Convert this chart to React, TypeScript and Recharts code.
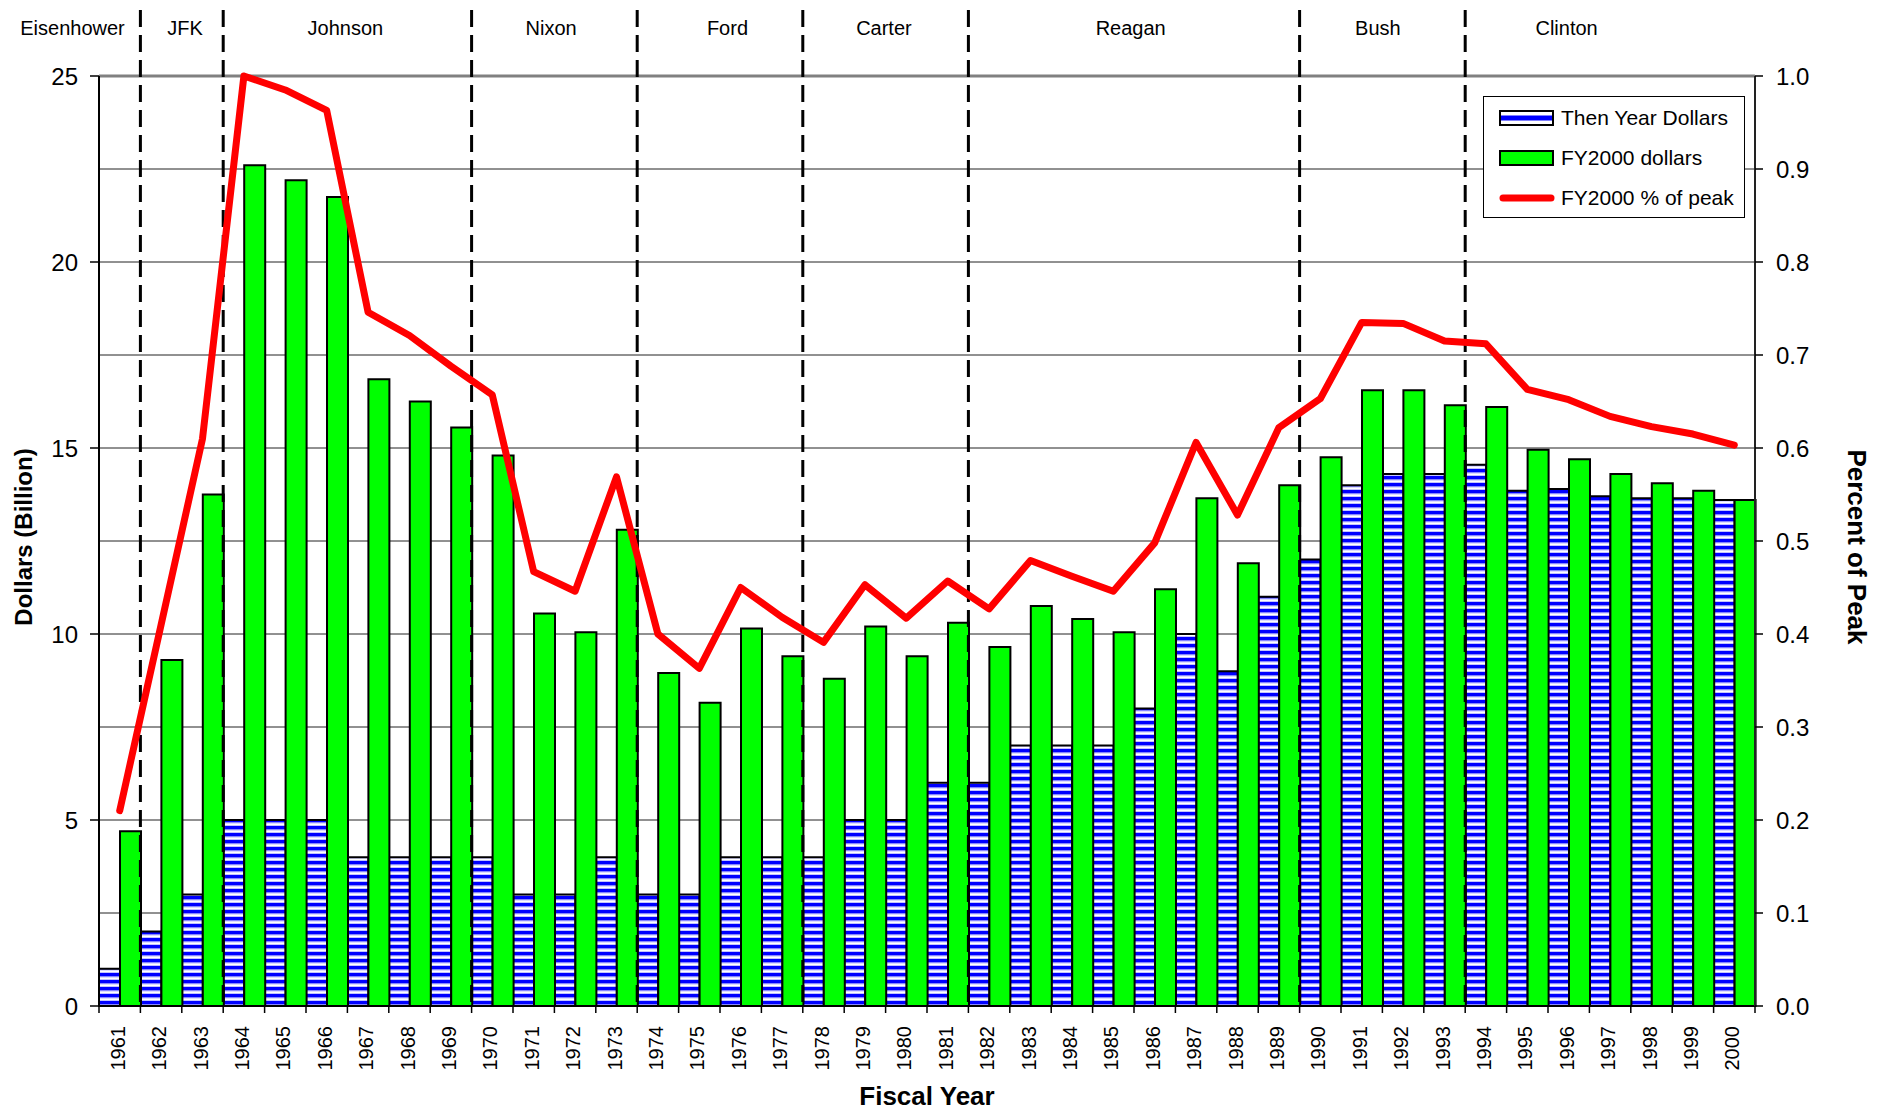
import {
  Bar,
  CartesianGrid,
  ComposedChart,
  Label,
  Legend,
  Line,
  ReferenceLine,
  XAxis,
  YAxis,
} from 'recharts'

const FONT = '"Liberation Sans", Arial, sans-serif'

const years = [
  1961, 1962, 1963, 1964, 1965, 1966, 1967, 1968, 1969, 1970,
  1971, 1972, 1973, 1974, 1975, 1976, 1977, 1978, 1979, 1980,
  1981, 1982, 1983, 1984, 1985, 1986, 1987, 1988, 1989, 1990,
  1991, 1992, 1993, 1994, 1995, 1996, 1997, 1998, 1999, 2000,
]

// then-year dollars, billions
const thenYear = [
  1, 2, 3, 5, 5, 5, 4, 4, 4, 4,
  3, 3, 4, 3, 3, 4, 4, 4, 5, 5,
  6, 6, 7, 7, 7, 8, 10, 9, 11, 12,
  14, 14.3, 14.3, 14.55, 13.85, 13.9, 13.7, 13.65, 13.65, 13.6,
]

// FY2000 dollars, billions
const fy2000 = [
  4.7, 9.3, 13.75, 22.6, 22.2, 21.75, 16.85, 16.25, 15.55, 14.8,
  10.55, 10.05, 12.8, 8.95, 8.15, 10.15, 9.4, 8.8, 10.2, 9.4,
  10.3, 9.65, 10.75, 10.4, 10.05, 11.2, 13.65, 11.9, 14.0, 14.75,
  16.55, 16.55, 16.15, 16.1, 14.95, 14.7, 14.3, 14.05, 13.85, 13.6,
]

// FY2000 as fraction of peak
const pctOfPeak = [
  0.21, 0.41, 0.61, 1.0, 0.985, 0.963, 0.746, 0.721, 0.688, 0.657,
  0.467, 0.446, 0.569, 0.4, 0.363, 0.45, 0.418, 0.391, 0.453, 0.417,
  0.457, 0.427, 0.479, 0.462, 0.446, 0.498, 0.606, 0.528, 0.622, 0.653,
  0.735, 0.734, 0.715, 0.712, 0.663, 0.652, 0.634, 0.623, 0.615, 0.603,
]

const presidents = ['Eisenhower', 'JFK', 'Johnson', 'Nixon', 'Ford', 'Carter', 'Reagan', 'Bush', 'Clinton']
const termStart = [1961, 1962, 1964, 1970, 1974, 1978, 1982, 1990, 1994]
// where each name sits, in fiscal-year units
const nameAt = [1959.86, 1962.58, 1966.45, 1971.42, 1975.68, 1979.46, 1985.42, 1991.39, 1995.95]

const dollarTicks = [0, 5, 10, 15, 20, 25]
const pctTicks = [0, 0.1, 0.2, 0.3, 0.4, 0.5, 0.6, 0.7, 0.8, 0.9, 1.0]

const data = years.map((year, i) => ({
  year,
  thenYear: thenYear[i],
  fy2000: fy2000[i],
  pct: pctOfPeak[i],
}))

function YearTick(props: any) {
  const { x, y, payload, index } = props
  const half = payload?.offset ?? 0
  const ty = y + 1
  return (
    <g>
      <line x1={x - half} x2={x - half} y1={y - 19} y2={y - 12} stroke="#000" strokeWidth={1.5} />
      {index === years.length - 1 && (
        <line x1={x + half} x2={x + half} y1={y - 19} y2={y - 12} stroke="#000" strokeWidth={1.5} />
      )}
      <text
        x={x - 2}
        y={ty}
        transform={`rotate(-90, ${x - 2}, ${ty})`}
        textAnchor="end"
        dominantBaseline="central"
        fontSize={20}
        fontFamily={FONT}
        fill="#000"
      >
        {payload.value}
      </text>
    </g>
  )
}

function TermLine(p: any) {
  const top = Math.min(p.y1, p.y2)
  const bottom = Math.max(p.y1, p.y2)
  return (
    <line
      x1={p.x1}
      x2={p.x1}
      y1={top - 66}
      y2={bottom}
      stroke="#000"
      strokeWidth={3}
      strokeDasharray="17 8"
    />
  )
}

function LegendBox() {
  const row = { display: 'flex', alignItems: 'center', height: 40 }
  const text = { fontSize: 21, fontFamily: FONT, color: '#000', marginLeft: 6 }
  return (
    <div
      style={{
        border: '1px solid #000',
        background: '#fff',
        width: 262,
        height: 122,
        boxSizing: 'border-box',
        padding: '1px 0 0 15px',
      }}
    >
      <div style={row}>
        <svg width={56} height={18}>
          <rect x={1} y={2} width={53} height={14} fill="#fff" stroke="#000" strokeWidth={2} />
          <rect x={2} y={6.5} width={51} height={5} fill="#0000ff" />
        </svg>
        <span style={text}>Then Year Dollars</span>
      </div>
      <div style={row}>
        <svg width={56} height={18}>
          <rect x={1} y={2} width={53} height={14} fill="#00ff00" stroke="#000" strokeWidth={2} />
        </svg>
        <span style={text}>FY2000 dollars</span>
      </div>
      <div style={row}>
        <svg width={56} height={18}>
          <line x1={4} x2={52} y1={9} y2={9} stroke="#ff0000" strokeWidth={7} strokeLinecap="round" />
        </svg>
        <span style={text}>FY2000 % of peak</span>
      </div>
    </div>
  )
}

export default function App() {
  return (
    <div style={{ fontFamily: FONT }}>
      <style>{'body{margin:0}'}</style>
      <svg width={0} height={0} style={{ position: 'absolute' }}>
        <defs>
          <pattern id="stripes" patternUnits="userSpaceOnUse" width={10} height={7}>
            <rect x={0} y={0} width={10} height={7} fill="#ffffff" />
            <rect x={0} y={0} width={10} height={3.5} fill="#0000ff" />
            <rect x={0} y={3.5} width={10} height={0.8} fill="#8c8cff" />
            <rect x={0} y={6.2} width={10} height={0.8} fill="#b4b4ff" />
          </pattern>
        </defs>
      </svg>
      <ComposedChart
        width={1885}
        height={1112}
        data={data}
        margin={{ top: 76, right: 0, bottom: 0, left: 0 }}
        barCategoryGap={0}
        barGap={0}
      >
        <CartesianGrid
          xAxisId="cat"
          yAxisId="right"
          vertical={false}
          stroke="#222"
          strokeWidth={1}
        />
        <XAxis
          xAxisId="cat"
          dataKey="year"
          type="category"
          height={106}
          interval={0}
          tickLine={false}
          tickSize={7}
          tickMargin={12}
          axisLine={{ stroke: '#000', strokeWidth: 2 }}
          tick={<YearTick />}
        >
          <Label
            value="Fiscal Year"
            position="insideBottom"
            offset={7}
            style={{ fontSize: 26, fontWeight: 700, fill: '#000', fontFamily: FONT }}
          />
        </XAxis>
        <XAxis
          xAxisId="era"
          dataKey="year"
          type="number"
          domain={[1960.5, 2000.5]}
          hide
          allowDataOverflow
        />
        <YAxis
          yAxisId="left"
          orientation="left"
          width={99}
          domain={[0, 25]}
          ticks={dollarTicks}
          interval={0}
          tickSize={9}
          tickMargin={12}
          tickLine={{ stroke: '#000', strokeWidth: 1.5 }}
          axisLine={{ stroke: '#000', strokeWidth: 2 }}
          tick={{ fontSize: 24, fill: '#000', fontFamily: FONT }}
        >
          <Label
            content={(p: any) => {
              const vb = p.viewBox
              const cx = vb.x + 23
              const cy = vb.y + vb.height / 2 - 4
              return (
                <text
                  x={cx}
                  y={cy}
                  transform={`rotate(-90, ${cx}, ${cy})`}
                  textAnchor="middle"
                  dominantBaseline="central"
                  fontSize={24}
                  fontWeight={700}
                  fontFamily={FONT}
                  fill="#000"
                >
                  Dollars (Billion)
                </text>
              )
            }}
          />
        </YAxis>
        <YAxis
          yAxisId="right"
          orientation="right"
          width={130}
          domain={[0, 1]}
          ticks={pctTicks}
          interval={0}
          tickSize={8}
          tickMargin={13}
          tickFormatter={(v: number) => v.toFixed(1)}
          tickLine={{ stroke: '#000', strokeWidth: 1.5 }}
          axisLine={{ stroke: '#222', strokeWidth: 2 }}
          tick={{ fontSize: 24, fill: '#000', fontFamily: FONT }}
        >
          <Label
            content={(p: any) => {
              const vb = p.viewBox
              const cx = vb.x + 102
              const cy = vb.y + vb.height / 2 + 6
              return (
                <text
                  x={cx}
                  y={cy}
                  transform={`rotate(90, ${cx}, ${cy})`}
                  textAnchor="middle"
                  dominantBaseline="central"
                  fontSize={26}
                  fontWeight={700}
                  fontFamily={FONT}
                  fill="#000"
                >
                  Percent of Peak
                </text>
              )
            }}
          />
        </YAxis>
        <ReferenceLine xAxisId="cat" yAxisId="right" y={1} stroke="#808080" strokeWidth={3} />
        <Bar
          xAxisId="cat"
          yAxisId="left"
          dataKey="thenYear"
          name="Then Year Dollars"
          fill="url(#stripes)"
          stroke="#000"
          strokeWidth={2}
          isAnimationActive={false}
        />
        <Bar
          xAxisId="cat"
          yAxisId="left"
          dataKey="fy2000"
          name="FY2000 dollars"
          fill="#00ff00"
          stroke="#000"
          strokeWidth={2}
          isAnimationActive={false}
        />
        {termStart.slice(1).map((y) => (
          <ReferenceLine
            key={y}
            xAxisId="cat"
            yAxisId="left"
            x={y}
            position="start"
            ifOverflow="visible"
            shape={<TermLine />}
          />
        ))}
        {presidents.map((name, i) => (
          <ReferenceLine
            key={name}
            xAxisId="era"
            yAxisId="left"
            x={nameAt[i]}
            ifOverflow="visible"
            shape={(p: any) => (
              <text
                x={p.x1}
                y={Math.min(p.y1, p.y2) - 48}
                textAnchor="middle"
                dominantBaseline="central"
                fontSize={20}
                fontFamily={FONT}
                fill="#000"
              >
                {name}
              </text>
            )}
          />
        ))}
        <Line
          xAxisId="cat"
          yAxisId="right"
          type="linear"
          dataKey="pct"
          name="FY2000 % of peak"
          stroke="#ff0000"
          strokeWidth={7}
          strokeLinejoin="round"
          strokeLinecap="round"
          dot={false}
          activeDot={false}
          isAnimationActive={false}
        />
        <Legend
          layout="horizontal"
          verticalAlign="middle"
          align="center"
          content={() => <LegendBox />}
          wrapperStyle={{ left: 1483, top: 96, width: 264, height: 124 }}
        />
      </ComposedChart>
    </div>
  )
}
